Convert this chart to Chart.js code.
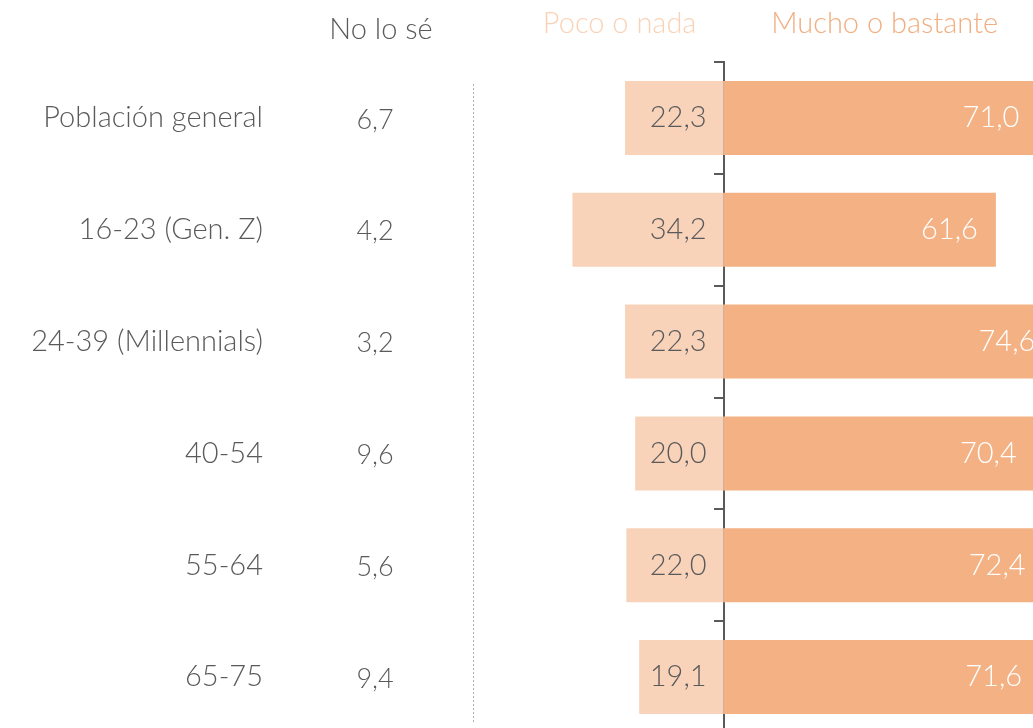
<!DOCTYPE html>
<html>
<head>
<meta charset="utf-8">
<script src="https://cdn.jsdelivr.net/npm/chart.js@4/dist/chart.umd.min.js"></script>
<style>
  html, body { margin: 0; padding: 0; background: #fff; overflow: hidden; }
  #wrap { position: relative; width: 1033px; height: 740px; }
</style>
</head>
<body>
<div id="wrap"><canvas id="c"></canvas></div>
<script>
const categories = ["Población general", "16-23 (Gen. Z)", "24-39 (Millennials)", "40-54", "55-64", "65-75"];
const noLoSe = [6.7, 4.2, 3.2, 9.6, 5.6, 9.4];
const pocoONada = [22.3, 34.2, 22.3, 20.0, 22.0, 19.1];
const muchoOBastante = [71.0, 61.6, 74.6, 70.4, 72.4, 71.6];
const headers = ["No lo sé", "Poco o nada", "Mucho o bastante"];

const LIGHT = "#F8D3B9";
const DARK = "#F3B184";
const GRAY = "#5a5a5a";
const FONT = "Lato, 'Open Sans', sans-serif";

const fmt = v => v.toFixed(1).replace(".", ",");

const textPlugin = {
  id: "textPlugin",
  afterDraw(chart) {
    const ctx = chart.ctx;
    const ys = chart.scales.y;
    const xs = chart.scales.x;
    const area = chart.chartArea;
    const zero = xs.getPixelForValue(0);
    ctx.save();

    // dotted separator
    ctx.strokeStyle = "#b0b0b0";
    ctx.lineWidth = 1;
    ctx.setLineDash([2, 2]);
    ctx.beginPath();
    ctx.moveTo(area.left + 0.5, 84);
    ctx.lineTo(area.left + 0.5, 722);
    ctx.stroke();
    ctx.setLineDash([]);

    // headers
    ctx.textBaseline = "alphabetic";
    ctx.font = "300 29px " + FONT;
    ctx.textAlign = "center";
    ctx.fillStyle = GRAY;
    ctx.fillText(headers[0], 381, 39);
    ctx.fillStyle = "#F9D2B6";
    ctx.fillText(headers[1], zero - 104, 33);
    ctx.fillStyle = "#F1AE80";
    ctx.fillText(headers[2], zero + 161, 33);

    // category labels and "No lo sé" values
    ctx.textBaseline = "middle";
    ctx.font = "300 29px " + FONT;
    categories.forEach((cat, i) => {
      const y = ys.getPixelForValue(i);
      ctx.fillStyle = GRAY;
      ctx.textAlign = "right";
      ctx.fillText(cat, 263, y);
      ctx.textAlign = "center";
      ctx.font = "300 27px " + FONT;
      ctx.fillText(fmt(noLoSe[i]), 375, y + 2);
      ctx.font = "300 29px " + FONT;
    });

    // bar value labels
    ctx.font = "300 29px " + FONT;
    const metaNeg = chart.getDatasetMeta(0);
    const metaPos = chart.getDatasetMeta(1);
    metaNeg.data.forEach((el, i) => {
      ctx.fillStyle = GRAY;
      ctx.textAlign = "right";
      ctx.fillText(fmt(pocoONada[i]), zero - 17, el.y);
    });
    metaPos.data.forEach((el, i) => {
      ctx.fillStyle = "#ffffff";
      ctx.textAlign = "right";
      ctx.fillText(fmt(muchoOBastante[i]), el.x - 18, el.y);
    });
    ctx.restore();
  }
};

new Chart(document.getElementById("c"), {
  type: "bar",
  data: {
    labels: categories,
    datasets: [
      { label: headers[1], data: pocoONada.map(v => -v), backgroundColor: LIGHT, borderWidth: 0 },
      { label: headers[2], data: muchoOBastante, backgroundColor: DARK, borderWidth: 0 }
    ]
  },
  options: {
    indexAxis: "y",
    responsive: true,
    maintainAspectRatio: false,
    animation: false,
    events: [],
    layout: { padding: { left: 473, right: 0, top: 62, bottom: 7 } },
    datasets: { bar: { categoryPercentage: 1, barPercentage: 0.662 } },
    plugins: { legend: { display: false }, tooltip: { enabled: false } },
    scales: {
      x: { type: "linear", min: -56.7, max: 70, stacked: true, display: false },
      y: {
        type: "category",
        stacked: true,
        position: { x: 0 },
        offset: true,
        grid: { drawOnChartArea: false, drawTicks: true, tickLength: 9, color: GRAY, lineWidth: 2, offset: true },
        border: { display: true, color: GRAY, width: 2 },
        ticks: { display: false }
      }
    }
  },
  plugins: [textPlugin]
});
</script>
</body>
</html>
